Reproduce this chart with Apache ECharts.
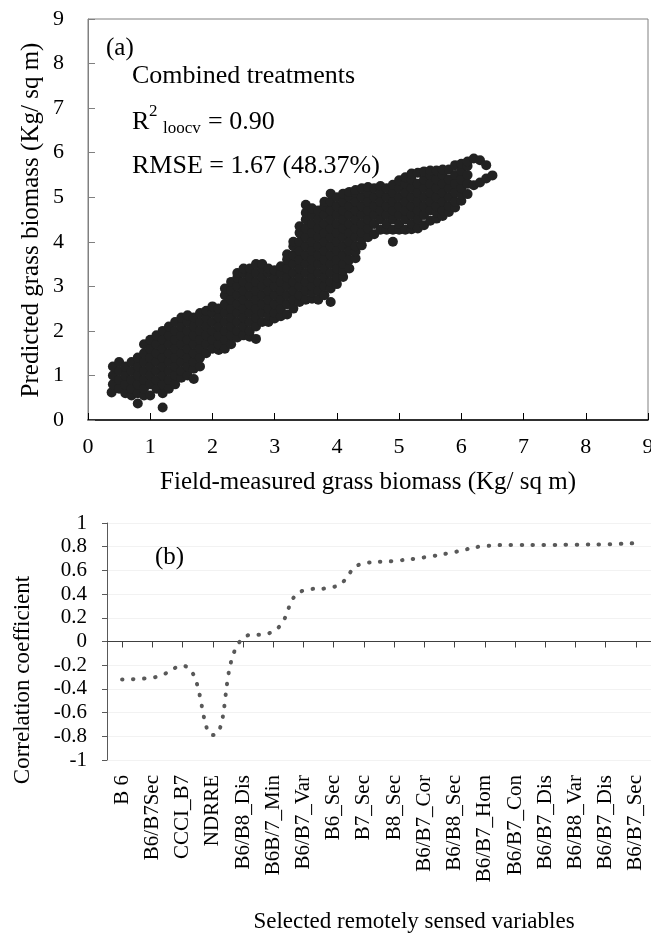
<!DOCTYPE html>
<html>
<head>
<meta charset="utf-8">
<script src="https://cdn.jsdelivr.net/npm/echarts@6/dist/echarts.min.js"></script>
<style>
  html, body { margin: 0; padding: 0; background: #fff; }
  #main { width: 651px; height: 938px; }
</style>
</head>
<body>
<div id="main"></div>
<script>
// panel (a): field-measured biomass (x) and predicted biomass (y), read column by column
var fieldX = [0.38, 0.4, 0.5, 0.6, 0.7, 0.8, 0.9, 1.0, 1.1, 1.2, 1.3, 1.4, 1.5, 1.6, 1.7, 1.8, 1.9, 2.0,
    2.1, 2.2, 2.3, 2.4, 2.5, 2.6, 2.7, 2.8, 2.9, 3.0, 3.1, 3.2, 3.3, 3.4, 3.5, 3.6, 3.7, 3.8, 3.9, 4.0,
    4.1, 4.2, 4.3, 4.4, 4.5, 4.6, 4.7, 4.8, 4.9, 5.0, 5.1, 5.2, 5.3, 5.4, 5.5, 5.6, 5.7, 5.8, 5.9, 6.0,
    6.1, 6.2, 6.3, 6.4, 6.5];
var predictedY = [
    [0.62],
    [0.8, 1.0, 1.2],
    [0.7, 0.9, 1.1, 1.3],
    [0.6, 0.8, 1.0, 1.2],
    [0.55, 0.7, 0.9, 1.1, 1.3],
    [0.37, 0.6, 0.8, 1.0, 1.2, 1.4],
    [0.55, 0.7, 0.9, 1.1, 1.3, 1.5, 1.7],
    [0.55, 0.8, 1.0, 1.2, 1.4, 1.6, 1.8],
    [0.7, 0.9, 1.1, 1.3, 1.5, 1.7, 1.9],
    [0.28, 0.6, 0.8, 1.0, 1.2, 1.4, 1.6, 1.8, 2.0],
    [0.7, 0.9, 1.1, 1.3, 1.5, 1.7, 1.9, 2.1],
    [0.8, 1.0, 1.2, 1.4, 1.6, 1.8, 2.0, 2.2],
    [0.95, 1.1, 1.3, 1.5, 1.7, 1.9, 2.1, 2.3],
    [1.0, 1.2, 1.4, 1.6, 1.8, 2.0, 2.2, 2.35],
    [0.92, 1.15, 1.3, 1.5, 1.7, 1.9, 2.1, 2.3],
    [1.2, 1.4, 1.6, 1.8, 2.0, 2.2, 2.4],
    [1.5, 1.7, 1.9, 2.1, 2.3, 2.45],
    [1.6, 1.8, 2.0, 2.2, 2.4, 2.55],
    [1.57, 1.7, 1.9, 2.1, 2.3, 2.5],
    [1.6, 1.8, 2.0, 2.2, 2.4, 2.6, 2.8, 2.95],
    [1.7, 1.9, 2.1, 2.3, 2.5, 2.7, 2.9, 3.1],
    [1.85, 2.0, 2.2, 2.4, 2.6, 2.8, 3.0, 3.2, 3.3],
    [1.9, 2.1, 2.3, 2.5, 2.7, 2.9, 3.1, 3.3, 3.4],
    [1.87, 2.0, 2.2, 2.4, 2.6, 2.8, 3.0, 3.2, 3.4],
    [1.82, 2.1, 2.3, 2.5, 2.7, 2.9, 3.1, 3.3, 3.5],
    [2.2, 2.4, 2.6, 2.8, 3.0, 3.2, 3.4, 3.5],
    [2.2, 2.35, 2.5, 2.7, 2.9, 3.1, 3.3, 3.4],
    [2.28, 2.4, 2.6, 2.8, 3.0, 3.2, 3.36],
    [2.33, 2.5, 2.7, 2.9, 3.1, 3.3, 3.45],
    [2.37, 2.6, 2.8, 3.0, 3.2, 3.4, 3.6, 3.72],
    [2.5, 2.7, 2.9, 3.1, 3.3, 3.5, 3.7, 3.9, 4.0],
    [2.65, 2.8, 3.0, 3.2, 3.4, 3.6, 3.8, 4.0, 4.2, 4.35],
    [2.7, 2.9, 3.1, 3.3, 3.5, 3.7, 3.9, 4.1, 4.3, 4.5, 4.65, 4.83],
    [2.72, 2.86, 3.0, 3.2, 3.4, 3.6, 3.8, 4.0, 4.2, 4.4, 4.6, 4.75],
    [2.7, 2.9, 3.1, 3.3, 3.5, 3.7, 3.9, 4.1, 4.3, 4.5, 4.7],
    [2.8, 3.0, 3.2, 3.4, 3.6, 3.8, 4.0, 4.2, 4.4, 4.6, 4.8, 4.9],
    [2.65, 2.95, 3.1, 3.3, 3.5, 3.7, 3.9, 4.1, 4.3, 4.5, 4.7, 4.9, 5.08],
    [3.05, 3.2, 3.4, 3.6, 3.8, 4.0, 4.2, 4.4, 4.6, 4.8, 5.0],
    [3.21, 3.35, 3.5, 3.7, 3.9, 4.1, 4.3, 4.5, 4.7, 4.9, 5.08],
    [3.4, 3.6, 3.8, 4.0, 4.2, 4.4, 4.6, 4.8, 5.0, 5.12],
    [3.63, 3.78, 3.9, 4.1, 4.3, 4.5, 4.7, 4.9, 5.1, 5.16],
    [3.92, 4.06, 4.2, 4.4, 4.6, 4.8, 5.0, 5.2],
    [4.1, 4.3, 4.5, 4.7, 4.9, 5.1, 5.23],
    [4.17, 4.4, 4.6, 4.8, 5.0, 5.2],
    [4.27, 4.5, 4.7, 4.9, 5.1, 5.25],
    [4.27, 4.4, 4.6, 4.8, 5.0, 5.2],
    [4.0, 4.27, 4.5, 4.7, 4.9, 5.1, 5.28],
    [4.27, 4.4, 4.6, 4.8, 5.0, 5.2, 5.38],
    [4.27, 4.5, 4.7, 4.9, 5.1, 5.3, 5.45],
    [4.28, 4.4, 4.6, 4.8, 5.0, 5.2, 5.4, 5.53],
    [4.3, 4.5, 4.7, 4.9, 5.1, 5.3, 5.55],
    [4.37, 4.6, 4.8, 5.0, 5.2, 5.4, 5.58],
    [4.47, 4.7, 4.9, 5.1, 5.3, 5.5, 5.6],
    [4.52, 4.66, 4.8, 5.0, 5.2, 5.4, 5.6],
    [4.58, 4.7, 4.9, 5.1, 5.3, 5.5, 5.62],
    [4.67, 4.8, 5.0, 5.2, 5.4, 5.62],
    [4.77, 4.9, 5.1, 5.3, 5.5, 5.72],
    [4.92, 5.06, 5.2, 5.4, 5.6, 5.75],
    [5.07, 5.3, 5.5, 5.7, 5.8],
    [5.27, 5.87],
    [5.33, 5.83],
    [5.42, 5.72],
    [5.49]
];

// panel (b): correlation of each selected variable
var variableNames = ['B 6', 'B6/B7Sec', 'CCCI_B7', 'NDRRE', 'B6/B8_Dis', 'B6B/7_Min', 'B6/B7_Var',
    'B6_Sec', 'B7_Sec', 'B8_Sec', 'B6/B7_Cor', 'B6/B8_Sec', 'B6/B7_Hom', 'B6/B7_Con', 'B6/B7_Dis',
    'B6/B8_Var', 'B6/B7_Dis', 'B6/B7_Sec'];
var correlation = [-0.32, -0.305, -0.205, -0.79, 0.03, 0.085, 0.43, 0.46, 0.66, 0.68, 0.71, 0.755,
    0.805, 0.815, 0.815, 0.817, 0.82, 0.83];

var serif = "'Liberation Serif', 'Times New Roman', serif";

var scatterPoints = [];
fieldX.forEach(function (x, i) {
    predictedY[i].forEach(function (y) {
        scatterPoints.push([x, y]);
    });
});

function label(text, x, y, size, opts) {
    opts = opts || {};
    return {
        type: 'text',
        x: x,
        y: y,
        rotation: opts.rotation || 0,
        silent: true,
        style: {
            text: text,
            fontFamily: serif,
            fontSize: size,
            fill: '#000',
            align: opts.align || 'left',
            verticalAlign: 'middle'
        }
    };
}

var myChart = echarts.init(document.getElementById('main'), null, { renderer: 'canvas' });

// panel (b) grid: top 523, height 237 -> zero line sits half way up
var gridB = { left: 107, top: 523, width: 544, height: 237 };

var option = {
    animation: false,
    backgroundColor: '#fff',
    grid: [
        { left: 88, top: 19, width: 560, height: 401, outerBoundsMode: 'none', containLabel: false,
          show: true, borderColor: '#808080', borderWidth: 1 },
        { left: gridB.left, top: gridB.top, width: gridB.width, height: gridB.height,
          outerBoundsMode: 'none', containLabel: false }
    ],
    xAxis: [
        {
            gridIndex: 0,
            type: 'value',
            min: 0,
            max: 9,
            interval: 1,
            axisLine: { lineStyle: { color: '#000', width: 1.5 } },
            axisTick: { inside: true, length: 7, lineStyle: { color: '#000' } },
            axisLabel: { margin: 16, color: '#000', fontFamily: serif, fontSize: 22,
                showMinLabel: true, showMaxLabel: true },
            splitLine: { show: false }
        },
        {
            // labels along the bottom of panel (b)
            gridIndex: 1,
            type: 'category',
            data: variableNames,
            boundaryGap: true,
            axisLine: { show: false, onZero: false },
            axisTick: { show: false },
            axisLabel: { interval: 0, rotate: 90, margin: 15, color: '#000', fontFamily: serif, fontSize: 21 },
            splitLine: { show: false }
        },
        {
            // zero line with its ticks
            gridIndex: 1,
            type: 'category',
            data: variableNames,
            boundaryGap: true,
            position: 'bottom',
            offset: -gridB.height / 2,
            axisLine: { show: true, onZero: false, lineStyle: { color: '#404040', width: 1.2 } },
            axisTick: { show: true, alignWithLabel: true, interval: 0, length: 6, lineStyle: { color: '#404040' } },
            axisLabel: { show: false },
            splitLine: { show: false }
        }
    ],
    yAxis: [
        {
            gridIndex: 0,
            type: 'value',
            min: 0,
            max: 9,
            interval: 1,
            axisLine: { show: true, lineStyle: { color: '#808080' } },
            axisTick: { show: true, inside: true, length: 7, lineStyle: { color: '#808080' } },
            axisLabel: { margin: 24, color: '#000', fontFamily: serif, fontSize: 22,
                showMinLabel: true, showMaxLabel: true },
            splitLine: { show: false }
        },
        {
            gridIndex: 1,
            type: 'value',
            min: -1,
            max: 1,
            interval: 0.2,
            axisLine: { show: true, lineStyle: { color: '#595959' } },
            axisTick: { show: true, length: 5, lineStyle: { color: '#595959' } },
            axisLabel: { margin: 20, color: '#000', fontFamily: serif, fontSize: 21,
                showMinLabel: true, showMaxLabel: true },
            splitLine: { show: true, lineStyle: { color: '#f2f2f2' } }
        }
    ],
    series: [
        {
            type: 'scatter',
            xAxisIndex: 0,
            yAxisIndex: 0,
            data: scatterPoints,
            symbol: 'circle',
            symbolSize: 10,
            itemStyle: { color: '#222222', opacity: 1 },
            silent: true
        },
        {
            type: 'line',
            xAxisIndex: 1,
            yAxisIndex: 1,
            data: correlation,
            smooth: true,
            showSymbol: false,
            lineStyle: { color: '#595959', width: 4, type: [0.5, 10.5], cap: 'round' },
            silent: true
        }
    ],
    graphic: [
        label('Predicted grass biomass (Kg/ sq m)', 31, 220, 25, { rotation: Math.PI / 2, align: 'center' }),
        label('Field-measured grass biomass (Kg/ sq m)', 368, 482, 25, { align: 'center' }),
        label('(a)', 106, 48, 25),
        label('Combined treatments', 132, 76, 26),
        label('R', 132, 122, 26),
        label('2', 149, 112, 17),
        label('loocv', 163, 129, 17),
        label('= 0.90', 208, 122, 26),
        label('RMSE = 1.67 (48.37%)', 132, 166, 26),
        label('(b)', 155, 557, 25),
        label('Correlation coefficient', 23, 680, 23, { rotation: Math.PI / 2, align: 'center' }),
        label('Selected remotely sensed variables', 414, 922, 23, { align: 'center' })
    ]
};

myChart.setOption(option);
</script>
</body>
</html>
